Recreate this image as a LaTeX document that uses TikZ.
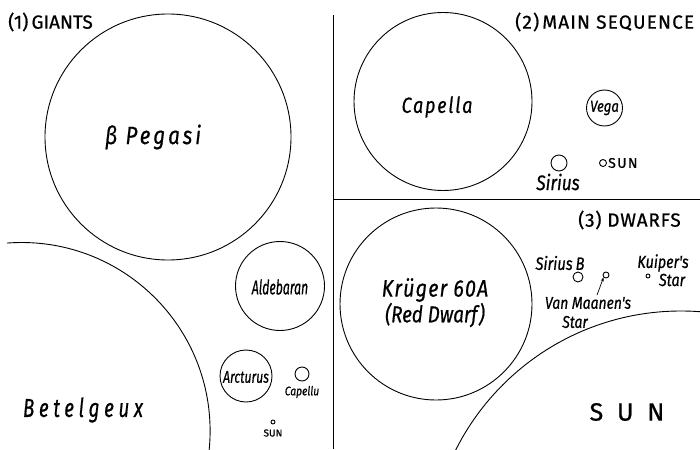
\documentclass[tikz,border=0pt]{standalone}
\usepackage{fontspec}
\setmainfont{Fira Sans}
\newfontfamily\hand[FakeStretch=0.82,FakeBold=0.6]{Fira Sans}
\newfontfamily\handn[FakeStretch=0.72,FakeBold=0.6]{Fira Sans}
\newfontfamily\headf[FakeBold=0.7]{Fira Sans}
\usetikzlibrary{arrows.meta}
\begin{document}
\begin{tikzpicture}[x=1pt,y=-1pt,
  star/.style={circle,draw,line width=0.9pt,inner sep=0pt,minimum size=#1},
  divider/.style={line width=0.8pt},
  lbl/.style={inner sep=0pt,font=\hand\itshape\fontsize{#1}{#1}\selectfont},
  lbln/.style={inner sep=0pt,font=\handn\itshape\fontsize{#1}{#1}\selectfont},
  head/.style={inner sep=0pt,anchor=west,font=\headf\fontsize{#1}{#1}\selectfont}]
\useasboundingbox (0,0) rectangle (700,449);
% dividers
\coordinate (vt) at (333,15);
\coordinate (vb) at (333,449);
\coordinate (hl) at (333,199);
\coordinate (hr) at (700,199);
\draw[divider] (vt) -- (vb);
\draw[divider] (hl) -- (hr);
% headings
\node[head=19] (h1) at (8,22) {(1)\,GIANTS};
\node[head=19] (h2) at (515,22) {\addfontfeature{LetterSpace=6}(2)\,MAIN SEQUENCE};
\node[head=19] (h3) at (578,220) {\addfontfeature{LetterSpace=4}(3) DWARFS};
% giants
\node[star=246pt] (peg) at (168,137) {};
\node[lbl=25] (pegl) at (153,137) {\addfontfeature{LetterSpace=12}β Pegasi};
\begin{scope}
\clip (7,0) rectangle (333,449);
\node[star=377pt] (bet) at (21.6,431) {};
\end{scope}
\node[lbln=26] (betl) at (83,410) {\addfontfeature{LetterSpace=18}Betelgeux};
\node[star=89pt] (ald) at (280,286) {};
\node[lbln=20] (aldl) at (280,287) {\scalebox{0.85}[1]{Aldebaran}};
\node[star=52pt] (arc) at (246,376) {};
\node[lbln=17] (arcl) at (246,377) {Arcturus};
\node[star=14pt] (capg) at (302,374) {};
\node[lbl=12.5] (capgl) at (302,392) {Capellu};
\node[star=4pt] (sung) at (273,422) {};
\node[inner sep=0pt,font=\headf\fontsize{10}{10}\selectfont] (sungl) at (273,433) {SUN};
% main sequence
\node[star=178pt] (cap) at (443,101.5) {};
\node[lbl=22] (capl) at (437,107) {\addfontfeature{LetterSpace=8}Capella};
\node[star=36pt] (vega) at (604.5,108) {};
\node[lbl=16] (vegal) at (604.5,108) {Vega};
\node[star=16pt] (sir) at (559,163) {};
\node[lbl=21] (sirl) at (558,182) {Sirius};
\node[star=7pt] (sunm) at (603,163) {};
\node[head=14] (sunml) at (608,163) {\addfontfeature{LetterSpace=10}SUN};
% dwarfs
\node[star=192pt] (kru) at (436,304) {};
\node[lbl=24] (krul1) at (435,290) {\addfontfeature{LetterSpace=5}Krüger 60A};
\node[lbl=23] (krul2) at (435,315) {(Red Dwarf)};
\node[star=10pt] (sirb) at (578,277) {};
\node[lbl=18] (sirbl) at (560,263) {Sirius\,B};
\node[star=6pt] (vm) at (606,275) {};
\node[lbl=17] (vml1) at (588,303) {Van Maanen's};
\node[lbl=17] (vml2) at (575,322) {Star};
\coordinate (vmtail) at (597,295);
\draw[line width=0.7pt,-{Stealth[length=4pt,width=3pt]}] (vmtail) -- (vm.south west);
\node[star=4pt] (kui) at (648,276) {};
\node[lbl=17.5] (kuil1) at (663,263) {Kuiper's};
\node[lbl=17.5] (kuil2) at (672,280) {Star};
\begin{scope}
\clip (333,199) rectangle (700,449);
\node[star=504pt] (sun) at (681,563) {};
\end{scope}
\node[inner sep=0pt,font=\headf\fontsize{25}{25}\selectfont] (sunl) at (627,412) {S\hspace{0.55em}U\hspace{0.55em}N};
\end{tikzpicture}
\end{document}
